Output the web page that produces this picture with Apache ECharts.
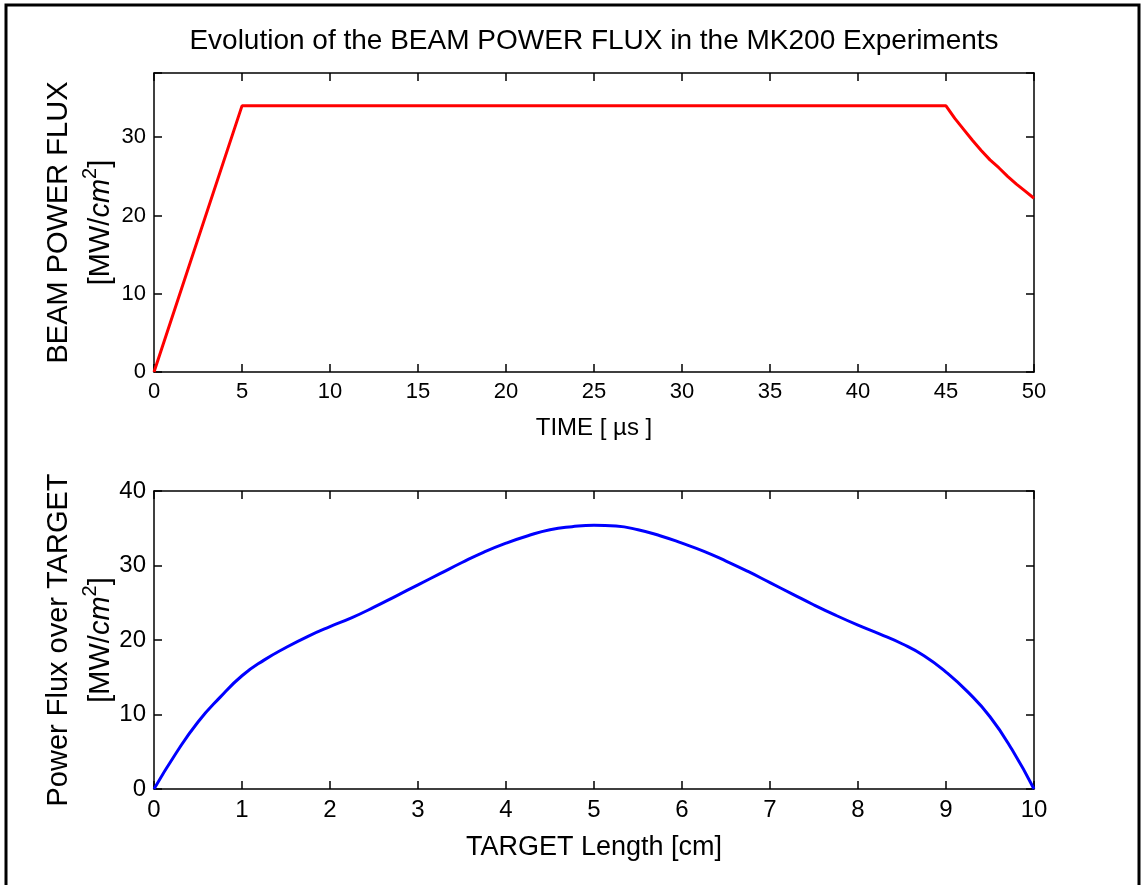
<!DOCTYPE html>
<html>
<head>
<meta charset="utf-8">
<script src="https://cdn.jsdelivr.net/npm/echarts@6/dist/echarts.min.js"></script>
<style>
html,body{margin:0;padding:0;background:#fff;}
#chart{width:1144px;height:885px;}
</style>
</head>
<body>
<div id="chart"></div>
<script>
// ---- data ----
var titleText = 'Evolution of the BEAM POWER FLUX in the MK200 Experiments';
var beamTime = [0, 5, 45, 45.5, 46, 46.5, 47, 47.5, 48, 48.5, 49, 49.5, 50];
var beamFlux = [0, 34, 34, 32.4, 31.0, 29.6, 28.3, 27.1, 26.1, 25.0, 24.0, 23.1, 22.2];
var targetX = [0, 0.25, 0.5, 0.75, 1.0, 1.25, 1.5, 1.75, 2.0, 2.25, 2.5, 2.75, 3.0, 3.25, 3.5, 3.75, 4.0, 4.25, 4.5, 4.75, 5.0,
               5.25, 5.5, 5.75, 6.0, 6.25, 6.5, 6.75, 7.0, 7.25, 7.5, 7.75, 8.0, 8.25, 8.5, 8.75, 9.0, 9.25, 9.5, 9.75, 10];
var targetFlux = [0, 4.8, 9.0, 12.3, 15.2, 17.3, 19.0, 20.5, 21.8, 23.0, 24.4, 25.9, 27.4, 28.9, 30.4, 31.8, 33.0, 34.0, 34.8, 35.2, 35.4,
                  35.3, 34.8, 34.0, 33.0, 31.9, 30.6, 29.2, 27.7, 26.2, 24.7, 23.3, 22.0, 20.8, 19.5, 17.9, 15.7, 13.0, 9.7, 5.3, 0];
var topXTicks = {min: 0, max: 50, interval: 5};
var topYTicks = {min: 0, max: 38.2, interval: 10};
var botXTicks = {min: 0, max: 10, interval: 1};
var botYTicks = {min: 0, max: 40, interval: 10};
var topXName = 'TIME [ \u00b5s ]';
var botXName = 'TARGET Length [cm]';
var topYName = ['BEAM POWER FLUX', '[MW/{it|cm}{sup|2}]'];
var botYName = ['Power Flux over TARGET', '[MW/{it|cm}{sup|2}]'];

function zip(xs, ys) { return xs.map(function (x, i) { return [x, ys[i]]; }); }

var FONT = '"Liberation Sans", Arial, Helvetica, sans-serif';
var lineStyle = {color: '#000', width: 1.5};

function xAx(gi, t, pos, name, labelSize, nameSize, nameGap) {
  return {
    type: 'value', gridIndex: gi, position: pos, min: t.min, max: t.max, interval: t.interval,
    axisLine: {show: true, onZero: false, lineStyle: lineStyle},
    axisTick: {show: true, inside: true, length: 8, lineStyle: lineStyle},
    axisLabel: {show: pos === 'bottom', color: '#000', fontSize: labelSize, fontFamily: FONT, margin: 9},
    splitLine: {show: false},
    name: pos === 'bottom' ? name : '', nameLocation: 'middle', nameGap: nameGap, nameMoveOverlap: false,
    nameTextStyle: {color: '#000', fontSize: nameSize, fontFamily: FONT}
  };
}
function yAx(gi, t, pos, nameLines, labelSize) {
  return {
    type: 'value', gridIndex: gi, position: pos, min: t.min, max: t.max, interval: t.interval,
    axisLine: {show: true, onZero: false, lineStyle: lineStyle},
    axisTick: {show: true, inside: true, length: 8, lineStyle: lineStyle},
    axisLabel: {show: pos === 'left', color: '#000', fontSize: labelSize, fontFamily: FONT, margin: 8,
      formatter: function (v) { return (v % t.interval === 0) ? String(v) : ''; }},
    splitLine: {show: false},
    name: pos === 'left' ? nameLines.join('\n') : '', nameLocation: 'middle', nameGap: 32, nameRotate: 90,
    nameMoveOverlap: false,
    nameTextStyle: {color: '#000', fontSize: 29, fontFamily: FONT, lineHeight: 42, align: 'center',
      rich: {
        it: {fontSize: 29, fontStyle: 'italic', fontFamily: FONT, color: '#000', lineHeight: 42},
        sup: {fontSize: 20, fontFamily: FONT, color: '#000', verticalAlign: 'top', lineHeight: 42, padding: [0, 0, 14, 0]}
      }}
  };
}

var chart = echarts.init(document.getElementById('chart'), null, {renderer: 'canvas'});
chart.setOption({
  animation: false,
  backgroundColor: '#fff',
  title: {text: titleText, left: 594, top: 27, textAlign: 'center', padding: 0,
    textStyle: {color: '#000', fontSize: 28, fontWeight: 'normal', fontFamily: FONT}},
  grid: [
    {left: 154, top: 73, width: 880, height: 299, containLabel: false},
    {left: 154, top: 491, width: 880, height: 298, containLabel: false}
  ],
  xAxis: [
    xAx(0, topXTicks, 'bottom', topXName, 22, 24, 44),
    xAx(0, topXTicks, 'top', '', 22, 24, 44),
    xAx(1, botXTicks, 'bottom', botXName, 24, 27, 45),
    xAx(1, botXTicks, 'top', '', 24, 27, 45)
  ],
  yAxis: [
    yAx(0, topYTicks, 'left', topYName, 22),
    yAx(0, topYTicks, 'right', topYName, 22),
    yAx(1, botYTicks, 'left', botYName, 24),
    yAx(1, botYTicks, 'right', botYName, 24)
  ],
  series: [
    {type: 'line', xAxisIndex: 0, yAxisIndex: 0, data: zip(beamTime, beamFlux), showSymbol: false,
      lineStyle: {color: '#ff0000', width: 3}, itemStyle: {color: '#ff0000'}},
    {type: 'line', xAxisIndex: 2, yAxisIndex: 2, data: zip(targetX, targetFlux), showSymbol: false, smooth: 0.5,
      lineStyle: {color: '#0000ff', width: 3}, itemStyle: {color: '#0000ff'}}
  ],
  graphic: [
    {type: 'polyline', shape: {points: [[6, 885], [6, 5], [1139, 5], [1139, 885]]},
      style: {stroke: '#000', lineWidth: 3, fill: null}, silent: true}
  ]
});
</script>
</body>
</html>
